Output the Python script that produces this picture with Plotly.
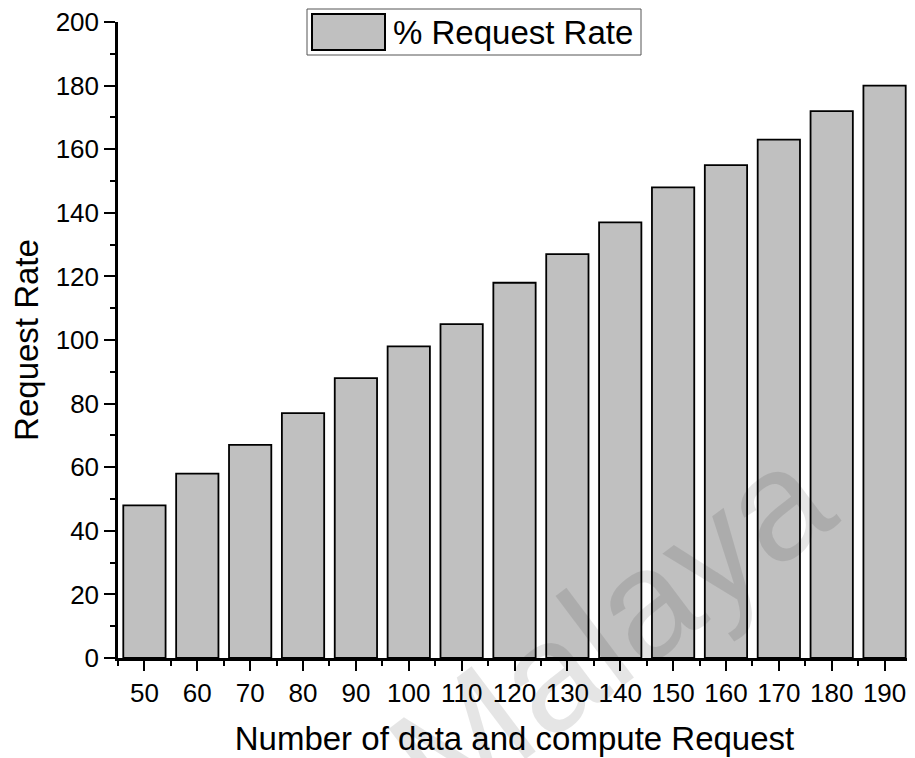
import plotly.graph_objects as go

categories = [50, 60, 70, 80, 90, 100, 110, 120, 130, 140, 150, 160, 170, 180, 190]
request_rate = [48, 58, 67, 77, 88, 98, 105, 118, 127, 137, 148, 155, 163, 172, 180]
series_name = "% Request Rate"
x_title = "Number of data and compute Request"
y_title = "Request Rate"
y_ticks = [0, 20, 40, 60, 80, 100, 120, 140, 160, 180, 200]

FONT = "Arial, Liberation Sans, sans-serif"

# plot area in screen pixels (page has an 8px body margin)
PX0, PX1, PY0, PY1 = 118, 911, 22, 658
PW, PH = PX1 - PX0, PY1 - PY0


def px(x):
    return (x - PX0) / PW


def py(y):
    return (PY1 - y) / PH


fig = go.Figure()
fig.add_trace(go.Bar(
    x=categories, y=request_rate, name=series_name, width=8,
    marker=dict(color="#c0c0c0", line=dict(color="black", width=1.8)),
    showlegend=False,
))

fig.update_layout(
    width=907, height=750,
    margin=dict(l=PX0 - 8, r=907 - (PX1 - 8), t=PY0 - 8, b=750 - (PY1 - 8), autoexpand=False),
    paper_bgcolor="white", plot_bgcolor="white",
    font=dict(family=FONT, color="black"),
    bargap=0.2,
)
fig.update_xaxes(
    range=[45, 195], tickmode="array", tickvals=categories,
    ticktext=[str(c) for c in categories], automargin=False,
    ticklabeloverflow="allow",
    ticks="outside", ticklen=10, tickwidth=2, tickcolor="black",
    minor=dict(tickmode="linear", tick0=45, dtick=10, ticks="outside", ticklen=5, tickwidth=2, tickcolor="black"),
    showline=True, linecolor="black", linewidth=2.5, showgrid=False, zeroline=False,
    tickfont=dict(size=26, family=FONT),
    title=dict(text=x_title, font=dict(size=33, family=FONT), standoff=20),
)
fig.update_yaxes(
    range=[0, 200], tickmode="array", tickvals=y_ticks, automargin=False,
    ticklabeloverflow="allow",
    ticks="outside", ticklen=11, tickwidth=2, tickcolor="black",
    minor=dict(tickmode="linear", tick0=10, dtick=20, ticks="outside", ticklen=5, tickwidth=2, tickcolor="black"),
    showline=True, linecolor="black", linewidth=2.5, showgrid=False, zeroline=False,
    tickfont=dict(size=26, family=FONT),
    title=dict(text=y_title, font=dict(size=33, family=FONT), standoff=12),
)

# custom legend box (wide swatch like the original)
fig.add_shape(type="rect", xref="paper", yref="paper",
              x0=px(307), x1=px(641), y0=py(55), y1=py(9),
              line=dict(color="#555555", width=1), fillcolor="white", layer="above")
fig.add_shape(type="rect", xref="paper", yref="paper",
              x0=px(312), x1=px(385), y0=py(50), y1=py(14),
              line=dict(color="black", width=2), fillcolor="#c0c0c0", layer="above")
fig.add_annotation(xref="paper", yref="paper", x=px(391), y=py(32),
                   xanchor="left", yanchor="middle", showarrow=False,
                   text=series_name, font=dict(size=33, family=FONT, color="black"))

# faint watermark
fig.add_annotation(xref="paper", yref="paper", x=px(610), y=py(628),
                   xanchor="center", yanchor="middle",
                   showarrow=False, text="Malaya", textangle=-37,
                   font=dict(size=155, family=FONT, color="rgba(0,0,0,0.10)"))

fig.write_html("out.html")
